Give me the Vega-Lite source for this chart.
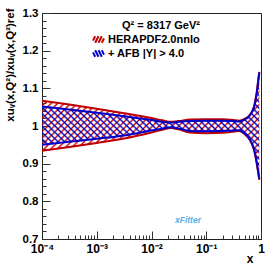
{
  "$schema": "https://vega.github.io/schema/vega-lite/v6.json",
  "width": 219,
  "height": 226,
  "autosize": {"type": "none"},
  "padding": {"left": 42, "top": 13, "right": 13, "bottom": 27},
  "background": "white",
  "config": {
    "font": "Liberation Sans",
    "view": {"stroke": "#222", "strokeWidth": 1},
    "axis": {"grid": false, "domainColor": "#222", "tickColor": "#333", "tickWidth": 1, "labelColor": "black", "titleColor": "black", "labelFontWeight": "bold", "titleFontWeight": "bold", "labelFontSize": 11.5, "titleFontSize": 12, "labelFont": "Liberation Sans", "titleFont": "Liberation Sans"}
  },
  "title": {"text": "xFitter", "orient": "bottom", "anchor": "start", "dx": 171, "dy": -52, "fontSize": 8.5, "fontStyle": "italic", "fontWeight": "bold", "color": "#5aaee6", "font": "Liberation Sans"},
  "resolve": {"axis": {"x": "independent", "y": "independent"}},
  "data": {"values": [
    {"x": 0.0001, "set": "HERAPDF2.0nnlo", "lo": 0.934, "hi": 1.067},
    {"x": 0.000316, "set": "HERAPDF2.0nnlo", "lo": 0.944, "hi": 1.057},
    {"x": 0.001, "set": "HERAPDF2.0nnlo", "lo": 0.955, "hi": 1.046},
    {"x": 0.00316, "set": "HERAPDF2.0nnlo", "lo": 0.967, "hi": 1.034},
    {"x": 0.01, "set": "HERAPDF2.0nnlo", "lo": 0.983, "hi": 1.021},
    {"x": 0.0158, "set": "HERAPDF2.0nnlo", "lo": 0.990, "hi": 1.015},
    {"x": 0.0224, "set": "HERAPDF2.0nnlo", "lo": 0.995, "hi": 1.011},
    {"x": 0.0316, "set": "HERAPDF2.0nnlo", "lo": 0.991, "hi": 1.013},
    {"x": 0.0501, "set": "HERAPDF2.0nnlo", "lo": 0.983, "hi": 1.017},
    {"x": 0.1, "set": "HERAPDF2.0nnlo", "lo": 0.981, "hi": 1.018},
    {"x": 0.1995, "set": "HERAPDF2.0nnlo", "lo": 0.982, "hi": 1.018},
    {"x": 0.316, "set": "HERAPDF2.0nnlo", "lo": 0.985, "hi": 1.016},
    {"x": 0.398, "set": "HERAPDF2.0nnlo", "lo": 0.987, "hi": 1.014},
    {"x": 0.501, "set": "HERAPDF2.0nnlo", "lo": 0.979, "hi": 1.019},
    {"x": 0.603, "set": "HERAPDF2.0nnlo", "lo": 0.966, "hi": 1.027},
    {"x": 0.692, "set": "HERAPDF2.0nnlo", "lo": 0.950, "hi": 1.040},
    {"x": 0.759, "set": "HERAPDF2.0nnlo", "lo": 0.932, "hi": 1.056},
    {"x": 0.832, "set": "HERAPDF2.0nnlo", "lo": 0.902, "hi": 1.087},
    {"x": 0.891, "set": "HERAPDF2.0nnlo", "lo": 0.875, "hi": 1.122},
    {"x": 0.931, "set": "HERAPDF2.0nnlo", "lo": 0.857, "hi": 1.144},
    {"x": 0.0001, "set": "+ AFB |Y| > 4.0", "lo": 0.950, "hi": 1.052},
    {"x": 0.000316, "set": "+ AFB |Y| > 4.0", "lo": 0.958, "hi": 1.044},
    {"x": 0.001, "set": "+ AFB |Y| > 4.0", "lo": 0.966, "hi": 1.035},
    {"x": 0.00316, "set": "+ AFB |Y| > 4.0", "lo": 0.975, "hi": 1.026},
    {"x": 0.01, "set": "+ AFB |Y| > 4.0", "lo": 0.988, "hi": 1.016},
    {"x": 0.0158, "set": "+ AFB |Y| > 4.0", "lo": 0.993, "hi": 1.011},
    {"x": 0.0224, "set": "+ AFB |Y| > 4.0", "lo": 0.997, "hi": 1.009},
    {"x": 0.0316, "set": "+ AFB |Y| > 4.0", "lo": 0.993, "hi": 1.011},
    {"x": 0.0501, "set": "+ AFB |Y| > 4.0", "lo": 0.987, "hi": 1.013},
    {"x": 0.1, "set": "+ AFB |Y| > 4.0", "lo": 0.986, "hi": 1.014},
    {"x": 0.1995, "set": "+ AFB |Y| > 4.0", "lo": 0.987, "hi": 1.014},
    {"x": 0.316, "set": "+ AFB |Y| > 4.0", "lo": 0.988, "hi": 1.013},
    {"x": 0.398, "set": "+ AFB |Y| > 4.0", "lo": 0.989, "hi": 1.012},
    {"x": 0.501, "set": "+ AFB |Y| > 4.0", "lo": 0.981, "hi": 1.017},
    {"x": 0.603, "set": "+ AFB |Y| > 4.0", "lo": 0.968, "hi": 1.025},
    {"x": 0.692, "set": "+ AFB |Y| > 4.0", "lo": 0.952, "hi": 1.038},
    {"x": 0.759, "set": "+ AFB |Y| > 4.0", "lo": 0.934, "hi": 1.054},
    {"x": 0.832, "set": "+ AFB |Y| > 4.0", "lo": 0.905, "hi": 1.085},
    {"x": 0.891, "set": "+ AFB |Y| > 4.0", "lo": 0.878, "hi": 1.120},
    {"x": 0.931, "set": "+ AFB |Y| > 4.0", "lo": 0.860, "hi": 1.142}
  ]},
  "layer": [
    {
      "transform": [{"filter": "datum.set === 'HERAPDF2.0nnlo'"}],
      "mark": {"type": "area", "interpolate": "monotone", "fill": {"gradient": "linear", "x1": 0, "y1": 0, "x2": 1.2, "y2": 0.606, "stops": [
        {"offset":0,"color":"rgba(200,0,0,0)"},{"offset":0.006,"color":"#c80000"},{"offset":0.012,"color":"rgba(200,0,0,0)"},
        {"offset":0.02,"color":"rgba(200,0,0,0)"},{"offset":0.026,"color":"#c80000"},{"offset":0.032,"color":"rgba(200,0,0,0)"},
        {"offset":0.04,"color":"rgba(200,0,0,0)"},{"offset":0.046,"color":"#c80000"},{"offset":0.052,"color":"rgba(200,0,0,0)"},
        {"offset":0.06,"color":"rgba(200,0,0,0)"},{"offset":0.066,"color":"#c80000"},{"offset":0.072,"color":"rgba(200,0,0,0)"},
        {"offset":0.08,"color":"rgba(200,0,0,0)"},{"offset":0.086,"color":"#c80000"},{"offset":0.092,"color":"rgba(200,0,0,0)"},
        {"offset":0.1,"color":"rgba(200,0,0,0)"},{"offset":0.106,"color":"#c80000"},{"offset":0.112,"color":"rgba(200,0,0,0)"},
        {"offset":0.12,"color":"rgba(200,0,0,0)"},{"offset":0.126,"color":"#c80000"},{"offset":0.132,"color":"rgba(200,0,0,0)"},
        {"offset":0.14,"color":"rgba(200,0,0,0)"},{"offset":0.146,"color":"#c80000"},{"offset":0.152,"color":"rgba(200,0,0,0)"},
        {"offset":0.16,"color":"rgba(200,0,0,0)"},{"offset":0.166,"color":"#c80000"},{"offset":0.172,"color":"rgba(200,0,0,0)"},
        {"offset":0.18,"color":"rgba(200,0,0,0)"},{"offset":0.186,"color":"#c80000"},{"offset":0.192,"color":"rgba(200,0,0,0)"},
        {"offset":0.2,"color":"rgba(200,0,0,0)"},{"offset":0.206,"color":"#c80000"},{"offset":0.212,"color":"rgba(200,0,0,0)"},
        {"offset":0.22,"color":"rgba(200,0,0,0)"},{"offset":0.226,"color":"#c80000"},{"offset":0.232,"color":"rgba(200,0,0,0)"},
        {"offset":0.24,"color":"rgba(200,0,0,0)"},{"offset":0.246,"color":"#c80000"},{"offset":0.252,"color":"rgba(200,0,0,0)"},
        {"offset":0.26,"color":"rgba(200,0,0,0)"},{"offset":0.266,"color":"#c80000"},{"offset":0.272,"color":"rgba(200,0,0,0)"},
        {"offset":0.28,"color":"rgba(200,0,0,0)"},{"offset":0.286,"color":"#c80000"},{"offset":0.292,"color":"rgba(200,0,0,0)"},
        {"offset":0.3,"color":"rgba(200,0,0,0)"},{"offset":0.306,"color":"#c80000"},{"offset":0.312,"color":"rgba(200,0,0,0)"},
        {"offset":0.32,"color":"rgba(200,0,0,0)"},{"offset":0.326,"color":"#c80000"},{"offset":0.332,"color":"rgba(200,0,0,0)"},
        {"offset":0.34,"color":"rgba(200,0,0,0)"},{"offset":0.346,"color":"#c80000"},{"offset":0.352,"color":"rgba(200,0,0,0)"},
        {"offset":0.36,"color":"rgba(200,0,0,0)"},{"offset":0.366,"color":"#c80000"},{"offset":0.372,"color":"rgba(200,0,0,0)"},
        {"offset":0.38,"color":"rgba(200,0,0,0)"},{"offset":0.386,"color":"#c80000"},{"offset":0.392,"color":"rgba(200,0,0,0)"},
        {"offset":0.4,"color":"rgba(200,0,0,0)"},{"offset":0.406,"color":"#c80000"},{"offset":0.412,"color":"rgba(200,0,0,0)"},
        {"offset":0.42,"color":"rgba(200,0,0,0)"},{"offset":0.426,"color":"#c80000"},{"offset":0.432,"color":"rgba(200,0,0,0)"},
        {"offset":0.44,"color":"rgba(200,0,0,0)"},{"offset":0.446,"color":"#c80000"},{"offset":0.452,"color":"rgba(200,0,0,0)"},
        {"offset":0.46,"color":"rgba(200,0,0,0)"},{"offset":0.466,"color":"#c80000"},{"offset":0.472,"color":"rgba(200,0,0,0)"},
        {"offset":0.48,"color":"rgba(200,0,0,0)"},{"offset":0.486,"color":"#c80000"},{"offset":0.492,"color":"rgba(200,0,0,0)"},
        {"offset":0.5,"color":"rgba(200,0,0,0)"},{"offset":0.506,"color":"#c80000"},{"offset":0.512,"color":"rgba(200,0,0,0)"},
        {"offset":0.52,"color":"rgba(200,0,0,0)"},{"offset":0.526,"color":"#c80000"},{"offset":0.532,"color":"rgba(200,0,0,0)"},
        {"offset":0.54,"color":"rgba(200,0,0,0)"},{"offset":0.546,"color":"#c80000"},{"offset":0.552,"color":"rgba(200,0,0,0)"},
        {"offset":0.56,"color":"rgba(200,0,0,0)"},{"offset":0.566,"color":"#c80000"},{"offset":0.572,"color":"rgba(200,0,0,0)"},
        {"offset":0.58,"color":"rgba(200,0,0,0)"},{"offset":0.586,"color":"#c80000"},{"offset":0.592,"color":"rgba(200,0,0,0)"},
        {"offset":0.6,"color":"rgba(200,0,0,0)"},{"offset":0.606,"color":"#c80000"},{"offset":0.612,"color":"rgba(200,0,0,0)"},
        {"offset":0.62,"color":"rgba(200,0,0,0)"},{"offset":0.626,"color":"#c80000"},{"offset":0.632,"color":"rgba(200,0,0,0)"},
        {"offset":0.64,"color":"rgba(200,0,0,0)"},{"offset":0.646,"color":"#c80000"},{"offset":0.652,"color":"rgba(200,0,0,0)"},
        {"offset":0.66,"color":"rgba(200,0,0,0)"},{"offset":0.666,"color":"#c80000"},{"offset":0.672,"color":"rgba(200,0,0,0)"},
        {"offset":0.68,"color":"rgba(200,0,0,0)"},{"offset":0.686,"color":"#c80000"},{"offset":0.692,"color":"rgba(200,0,0,0)"},
        {"offset":0.7,"color":"rgba(200,0,0,0)"},{"offset":0.706,"color":"#c80000"},{"offset":0.712,"color":"rgba(200,0,0,0)"},
        {"offset":0.72,"color":"rgba(200,0,0,0)"},{"offset":0.726,"color":"#c80000"},{"offset":0.732,"color":"rgba(200,0,0,0)"},
        {"offset":0.74,"color":"rgba(200,0,0,0)"},{"offset":0.746,"color":"#c80000"},{"offset":0.752,"color":"rgba(200,0,0,0)"},
        {"offset":0.76,"color":"rgba(200,0,0,0)"},{"offset":0.766,"color":"#c80000"},{"offset":0.772,"color":"rgba(200,0,0,0)"},
        {"offset":0.78,"color":"rgba(200,0,0,0)"},{"offset":0.786,"color":"#c80000"},{"offset":0.792,"color":"rgba(200,0,0,0)"},
        {"offset":0.8,"color":"rgba(200,0,0,0)"},{"offset":0.806,"color":"#c80000"},{"offset":0.812,"color":"rgba(200,0,0,0)"},
        {"offset":0.82,"color":"rgba(200,0,0,0)"},{"offset":0.826,"color":"#c80000"},{"offset":0.832,"color":"rgba(200,0,0,0)"},
        {"offset":0.84,"color":"rgba(200,0,0,0)"},{"offset":0.846,"color":"#c80000"},{"offset":0.852,"color":"rgba(200,0,0,0)"},
        {"offset":0.86,"color":"rgba(200,0,0,0)"},{"offset":0.866,"color":"#c80000"},{"offset":0.872,"color":"rgba(200,0,0,0)"},
        {"offset":0.88,"color":"rgba(200,0,0,0)"},{"offset":0.886,"color":"#c80000"},{"offset":0.892,"color":"rgba(200,0,0,0)"},
        {"offset":0.9,"color":"rgba(200,0,0,0)"},{"offset":0.906,"color":"#c80000"},{"offset":0.912,"color":"rgba(200,0,0,0)"},
        {"offset":0.92,"color":"rgba(200,0,0,0)"},{"offset":0.926,"color":"#c80000"},{"offset":0.932,"color":"rgba(200,0,0,0)"},
        {"offset":0.94,"color":"rgba(200,0,0,0)"},{"offset":0.946,"color":"#c80000"},{"offset":0.952,"color":"rgba(200,0,0,0)"},
        {"offset":0.96,"color":"rgba(200,0,0,0)"},{"offset":0.966,"color":"#c80000"},{"offset":0.972,"color":"rgba(200,0,0,0)"},
        {"offset":0.98,"color":"rgba(200,0,0,0)"},{"offset":0.986,"color":"#c80000"},{"offset":0.992,"color":"rgba(200,0,0,0)"}
      ]}},
      "encoding": {
        "x": {
          "field": "x", "type": "quantitative",
          "scale": {"type": "log", "domain": [0.0001, 1], "nice": false},
          "axis": {
            "orient": "bottom",
            "values": [0.0001, 0.001, 0.01, 0.1, 1],
            "labelExpr": "datum.value > 0.99 ? '1' : datum.value > 0.09 ? '10⁻¹' : datum.value > 0.009 ? '10⁻²' : datum.value > 0.0009 ? '10⁻³' : '10⁻⁴'",
            "labelOverlap": false,
            "labelFlush": false,
            "labelFontSize": 12,
            "labelPadding": 12,
            "tickSize": -8,
            "title": "x",
            "titleX": 211,
            "titleY": 23,
            "titleAlign": "right",
            "titleBaseline": "alphabetic"
          }
        },
        "y": {"field": "lo", "type": "quantitative", "scale": {"domain": [0.7, 1.3], "nice": false, "zero": false},
          "axis": {
            "orient": "left",
            "values": [0.7, 0.8, 0.9, 1, 1.1, 1.2, 1.3],
            "labelExpr": "format(datum.value, '.1~f')",
            "labelOverlap": false,
            "labelFlush": false,
            "labelPadding": 12,
            "tickSize": -8,
            "title": "xuᵥ(x,Q²)/xuᵥ(x,Q²)ref",
            "titleFontSize": 11.5,
            "titleAnchor": "end",
            "titleX": -32,
            "titleY": -5,
            "titleAlign": "right",
            "titleBaseline": "middle"
          }
        },
        "y2": {"field": "hi"}
      }
    },
    {
      "transform": [{"filter": "datum.set === '+ AFB |Y| > 4.0'"}],
      "mark": {"type": "area", "interpolate": "monotone", "fill": {"gradient": "linear", "x1": 0, "y1": 1, "x2": 1.2, "y2": 0.394, "stops": [
        {"offset":0,"color":"rgba(0,0,200,0)"},{"offset":0.006,"color":"#0000c8"},{"offset":0.012,"color":"rgba(0,0,200,0)"},
        {"offset":0.02,"color":"rgba(0,0,200,0)"},{"offset":0.026,"color":"#0000c8"},{"offset":0.032,"color":"rgba(0,0,200,0)"},
        {"offset":0.04,"color":"rgba(0,0,200,0)"},{"offset":0.046,"color":"#0000c8"},{"offset":0.052,"color":"rgba(0,0,200,0)"},
        {"offset":0.06,"color":"rgba(0,0,200,0)"},{"offset":0.066,"color":"#0000c8"},{"offset":0.072,"color":"rgba(0,0,200,0)"},
        {"offset":0.08,"color":"rgba(0,0,200,0)"},{"offset":0.086,"color":"#0000c8"},{"offset":0.092,"color":"rgba(0,0,200,0)"},
        {"offset":0.1,"color":"rgba(0,0,200,0)"},{"offset":0.106,"color":"#0000c8"},{"offset":0.112,"color":"rgba(0,0,200,0)"},
        {"offset":0.12,"color":"rgba(0,0,200,0)"},{"offset":0.126,"color":"#0000c8"},{"offset":0.132,"color":"rgba(0,0,200,0)"},
        {"offset":0.14,"color":"rgba(0,0,200,0)"},{"offset":0.146,"color":"#0000c8"},{"offset":0.152,"color":"rgba(0,0,200,0)"},
        {"offset":0.16,"color":"rgba(0,0,200,0)"},{"offset":0.166,"color":"#0000c8"},{"offset":0.172,"color":"rgba(0,0,200,0)"},
        {"offset":0.18,"color":"rgba(0,0,200,0)"},{"offset":0.186,"color":"#0000c8"},{"offset":0.192,"color":"rgba(0,0,200,0)"},
        {"offset":0.2,"color":"rgba(0,0,200,0)"},{"offset":0.206,"color":"#0000c8"},{"offset":0.212,"color":"rgba(0,0,200,0)"},
        {"offset":0.22,"color":"rgba(0,0,200,0)"},{"offset":0.226,"color":"#0000c8"},{"offset":0.232,"color":"rgba(0,0,200,0)"},
        {"offset":0.24,"color":"rgba(0,0,200,0)"},{"offset":0.246,"color":"#0000c8"},{"offset":0.252,"color":"rgba(0,0,200,0)"},
        {"offset":0.26,"color":"rgba(0,0,200,0)"},{"offset":0.266,"color":"#0000c8"},{"offset":0.272,"color":"rgba(0,0,200,0)"},
        {"offset":0.28,"color":"rgba(0,0,200,0)"},{"offset":0.286,"color":"#0000c8"},{"offset":0.292,"color":"rgba(0,0,200,0)"},
        {"offset":0.3,"color":"rgba(0,0,200,0)"},{"offset":0.306,"color":"#0000c8"},{"offset":0.312,"color":"rgba(0,0,200,0)"},
        {"offset":0.32,"color":"rgba(0,0,200,0)"},{"offset":0.326,"color":"#0000c8"},{"offset":0.332,"color":"rgba(0,0,200,0)"},
        {"offset":0.34,"color":"rgba(0,0,200,0)"},{"offset":0.346,"color":"#0000c8"},{"offset":0.352,"color":"rgba(0,0,200,0)"},
        {"offset":0.36,"color":"rgba(0,0,200,0)"},{"offset":0.366,"color":"#0000c8"},{"offset":0.372,"color":"rgba(0,0,200,0)"},
        {"offset":0.38,"color":"rgba(0,0,200,0)"},{"offset":0.386,"color":"#0000c8"},{"offset":0.392,"color":"rgba(0,0,200,0)"},
        {"offset":0.4,"color":"rgba(0,0,200,0)"},{"offset":0.406,"color":"#0000c8"},{"offset":0.412,"color":"rgba(0,0,200,0)"},
        {"offset":0.42,"color":"rgba(0,0,200,0)"},{"offset":0.426,"color":"#0000c8"},{"offset":0.432,"color":"rgba(0,0,200,0)"},
        {"offset":0.44,"color":"rgba(0,0,200,0)"},{"offset":0.446,"color":"#0000c8"},{"offset":0.452,"color":"rgba(0,0,200,0)"},
        {"offset":0.46,"color":"rgba(0,0,200,0)"},{"offset":0.466,"color":"#0000c8"},{"offset":0.472,"color":"rgba(0,0,200,0)"},
        {"offset":0.48,"color":"rgba(0,0,200,0)"},{"offset":0.486,"color":"#0000c8"},{"offset":0.492,"color":"rgba(0,0,200,0)"},
        {"offset":0.5,"color":"rgba(0,0,200,0)"},{"offset":0.506,"color":"#0000c8"},{"offset":0.512,"color":"rgba(0,0,200,0)"},
        {"offset":0.52,"color":"rgba(0,0,200,0)"},{"offset":0.526,"color":"#0000c8"},{"offset":0.532,"color":"rgba(0,0,200,0)"},
        {"offset":0.54,"color":"rgba(0,0,200,0)"},{"offset":0.546,"color":"#0000c8"},{"offset":0.552,"color":"rgba(0,0,200,0)"},
        {"offset":0.56,"color":"rgba(0,0,200,0)"},{"offset":0.566,"color":"#0000c8"},{"offset":0.572,"color":"rgba(0,0,200,0)"},
        {"offset":0.58,"color":"rgba(0,0,200,0)"},{"offset":0.586,"color":"#0000c8"},{"offset":0.592,"color":"rgba(0,0,200,0)"},
        {"offset":0.6,"color":"rgba(0,0,200,0)"},{"offset":0.606,"color":"#0000c8"},{"offset":0.612,"color":"rgba(0,0,200,0)"},
        {"offset":0.62,"color":"rgba(0,0,200,0)"},{"offset":0.626,"color":"#0000c8"},{"offset":0.632,"color":"rgba(0,0,200,0)"},
        {"offset":0.64,"color":"rgba(0,0,200,0)"},{"offset":0.646,"color":"#0000c8"},{"offset":0.652,"color":"rgba(0,0,200,0)"},
        {"offset":0.66,"color":"rgba(0,0,200,0)"},{"offset":0.666,"color":"#0000c8"},{"offset":0.672,"color":"rgba(0,0,200,0)"},
        {"offset":0.68,"color":"rgba(0,0,200,0)"},{"offset":0.686,"color":"#0000c8"},{"offset":0.692,"color":"rgba(0,0,200,0)"},
        {"offset":0.7,"color":"rgba(0,0,200,0)"},{"offset":0.706,"color":"#0000c8"},{"offset":0.712,"color":"rgba(0,0,200,0)"},
        {"offset":0.72,"color":"rgba(0,0,200,0)"},{"offset":0.726,"color":"#0000c8"},{"offset":0.732,"color":"rgba(0,0,200,0)"},
        {"offset":0.74,"color":"rgba(0,0,200,0)"},{"offset":0.746,"color":"#0000c8"},{"offset":0.752,"color":"rgba(0,0,200,0)"},
        {"offset":0.76,"color":"rgba(0,0,200,0)"},{"offset":0.766,"color":"#0000c8"},{"offset":0.772,"color":"rgba(0,0,200,0)"},
        {"offset":0.78,"color":"rgba(0,0,200,0)"},{"offset":0.786,"color":"#0000c8"},{"offset":0.792,"color":"rgba(0,0,200,0)"},
        {"offset":0.8,"color":"rgba(0,0,200,0)"},{"offset":0.806,"color":"#0000c8"},{"offset":0.812,"color":"rgba(0,0,200,0)"},
        {"offset":0.82,"color":"rgba(0,0,200,0)"},{"offset":0.826,"color":"#0000c8"},{"offset":0.832,"color":"rgba(0,0,200,0)"},
        {"offset":0.84,"color":"rgba(0,0,200,0)"},{"offset":0.846,"color":"#0000c8"},{"offset":0.852,"color":"rgba(0,0,200,0)"},
        {"offset":0.86,"color":"rgba(0,0,200,0)"},{"offset":0.866,"color":"#0000c8"},{"offset":0.872,"color":"rgba(0,0,200,0)"},
        {"offset":0.88,"color":"rgba(0,0,200,0)"},{"offset":0.886,"color":"#0000c8"},{"offset":0.892,"color":"rgba(0,0,200,0)"},
        {"offset":0.9,"color":"rgba(0,0,200,0)"},{"offset":0.906,"color":"#0000c8"},{"offset":0.912,"color":"rgba(0,0,200,0)"},
        {"offset":0.92,"color":"rgba(0,0,200,0)"},{"offset":0.926,"color":"#0000c8"},{"offset":0.932,"color":"rgba(0,0,200,0)"},
        {"offset":0.94,"color":"rgba(0,0,200,0)"},{"offset":0.946,"color":"#0000c8"},{"offset":0.952,"color":"rgba(0,0,200,0)"},
        {"offset":0.96,"color":"rgba(0,0,200,0)"},{"offset":0.966,"color":"#0000c8"},{"offset":0.972,"color":"rgba(0,0,200,0)"},
        {"offset":0.98,"color":"rgba(0,0,200,0)"},{"offset":0.986,"color":"#0000c8"},{"offset":0.992,"color":"rgba(0,0,200,0)"}
      ]}},
      "encoding": {
        "x": {"field": "x", "type": "quantitative",
          "axis": {
            "orient": "bottom",
            "values": [0.0002, 0.0003, 0.0004, 0.0005, 0.0006, 0.0007, 0.0008, 0.0009, 0.002, 0.003, 0.004, 0.005, 0.006, 0.007, 0.008, 0.009, 0.02, 0.03, 0.04, 0.05, 0.06, 0.07, 0.08, 0.09, 0.2, 0.3, 0.4, 0.5, 0.6, 0.7, 0.8, 0.9],
            "labels": false, "domain": false, "tickSize": -4, "title": null
          }
        },
        "y": {"field": "lo", "type": "quantitative",
          "axis": {
            "orient": "left",
            "values": [0.72, 0.74, 0.76, 0.78, 0.82, 0.84, 0.86, 0.88, 0.92, 0.94, 0.96, 0.98, 1.02, 1.04, 1.06, 1.08, 1.12, 1.14, 1.16, 1.18, 1.22, 1.24, 1.26, 1.28],
            "labels": false, "domain": false, "tickSize": -4, "title": null
          }
        },
        "y2": {"field": "hi"}
      }
    },
    {
      "mark": {"type": "line", "interpolate": "monotone", "strokeWidth": 2},
      "encoding": {
        "x": {"field": "x", "type": "quantitative", "axis": null},
        "y": {"field": "lo", "type": "quantitative", "axis": null},
        "stroke": {"field": "set", "type": "nominal",
          "scale": {"domain": ["HERAPDF2.0nnlo", "+ AFB |Y| > 4.0"], "range": ["#c00000", "#0000c8"]},
          "legend": {
            "title": "Q² = 8317 GeV²",
            "orient": "none",
            "legendX": 50,
            "legendY": 7,
            "titleFontSize": 11,
            "titleFontWeight": "bold",
            "titleColor": "black",
            "titleAnchor": "end",
            "titlePadding": 2,
            "labelFontSize": 11,
            "labelFontWeight": "bold",
            "labelColor": "black",
            "labelOffset": 3,
            "rowPadding": -4,
            "symbolSize": 121,
            "symbolStrokeWidth": 2,
            "symbolType": "M-1,0.2L-0.6,-0.6M-0.6,0.6L0,-0.6M0,0.6L0.6,-0.6M0.6,0.6L1,-0.2",
            "encode": {"symbols": {"update": {"shape": {"signal": "datum.value === 'HERAPDF2.0nnlo' ? 'M-1,0.2L-0.6,-0.6M-0.6,0.6L0,-0.6M0,0.6L0.6,-0.6M0.6,0.6L1,-0.2' : 'M-1,-0.2L-0.6,0.6M-0.6,-0.6L0,0.6M0,-0.6L0.6,0.6M0.6,-0.6L1,0.2'"}}}}
          }
        }
      }
    },
    {
      "mark": {"type": "line", "interpolate": "monotone", "strokeWidth": 2},
      "encoding": {
        "x": {"field": "x", "type": "quantitative", "axis": null},
        "y": {"field": "hi", "type": "quantitative", "axis": null},
        "stroke": {"field": "set", "type": "nominal"}
      }
    }
  ]
}
